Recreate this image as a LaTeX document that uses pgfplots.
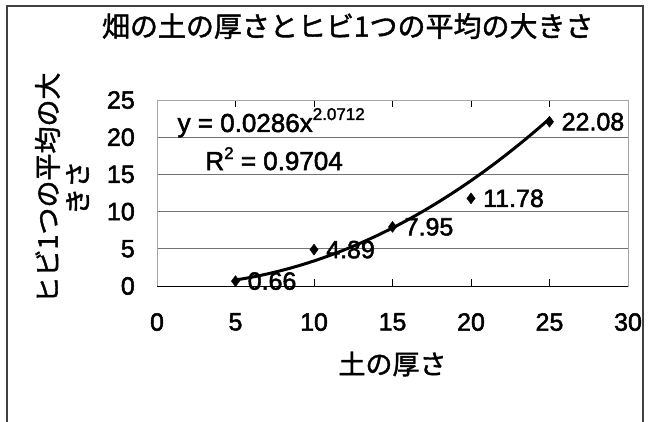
\documentclass[border=0pt]{standalone}
\usepackage{fontspec}
\setmainfont{Noto Sans CJK JP}[FakeBold=1.5]
\newfontfamily\numfont{Liberation Sans}[FakeBold=2]
\usepackage{pgfplots}
\pgfplotsset{compat=1.18}

\newcommand{\fs}[1]{\fontsize{#1}{#1}\selectfont}

\begin{document}
\begin{tikzpicture}
\useasboundingbox (0,0) rectangle (651pt,422pt);
\begin{axis}[
    at={(157pt,136pt)}, anchor=south west,
    scale only axis, width=471pt, height=186pt,
    xmin=0, xmax=30, ymin=0, ymax=25,
    xtick={0,5,...,30}, ytick={0,5,...,25},
    ymajorgrids,
    grid style={black!55, line width=0.6pt},
    axis line style={black!35, line width=0.6pt},
    tick align=inside,
    xtick style={black, line width=0.7pt},
    ytick style={draw=none},
    major tick length=7pt,
    /pgf/number format/assume math mode=true,
    ticklabel style={font=\numfont\fs{25}, inner sep=0pt},
    xticklabel style={yshift=-27pt},
    yticklabel style={xshift=-22pt},
    title={畑の土の厚さとヒビ1つの平均の大きさ},
    title style={font=\fs{28}, at={(axis description cs:0.405,1.365)}, anchor=center},
    xlabel={土の厚さ},
    xlabel style={font=\fs{27}, at={(axis description cs:0.5,-0.419)}, anchor=center},
    ylabel={ヒビ1つの平均の大\\きさ},
    ylabel style={font=\fontsize{27}{30}\selectfont, align=center,
        at={(axis description cs:-0.2017,0.527)}, anchor=center},
    clip=false,
]
% bottom axis line is solid black
\draw[black, line width=0.8pt] (rel axis cs:0,0) -- (rel axis cs:1,0);

% power trendline y = 0.0286 x^2.0712, tabulated
\addplot[black, line width=3pt, smooth, no marks] coordinates {
    (5,0.802) (6,1.170) (7,1.610) (8,2.123) (9,2.709) (10,3.369)
    (11,4.105) (12,4.916) (13,5.802) (14,6.764) (15,7.804) (16,8.920)
    (17,10.113) (18,11.384) (19,12.733) (20,14.160) (21,15.666)
    (22,17.250) (23,18.913) (24,20.657) (25,22.480)
};

% measured points with labels
\addplot[only marks, mark=diamond*, mark size=5.5pt, black,
    point meta=explicit symbolic, nodes near coords,
    every node near coord/.append style={anchor=west, font=\numfont\fs{25},
        inner sep=0pt, xshift=12pt}]
    coordinates {
    (5,0.66) [0.66]
    (10,4.89) [4.89]
    (15,7.95) [7.95]
    (20,11.78) [11.78]
    (25,22.08) [22.08]
};

\node[anchor=base west, inner sep=0pt, font=\numfont\fs{26}] at (axis cs:1.3,20.7)
    {y = 0.0286x\raisebox{12pt}{\fs{17}2.0712}};
\node[anchor=base west, inner sep=0pt, font=\numfont\fs{26}] at (axis cs:3.07,15.59)
    {R\raisebox{11pt}{\fs{17}2} = 0.9704};
\end{axis}
\draw[black!75, line width=1.2pt] (7pt,0pt) -- (7pt,416pt) -- (643pt,416pt) -- (643pt,0pt);
\end{tikzpicture}
\end{document}
